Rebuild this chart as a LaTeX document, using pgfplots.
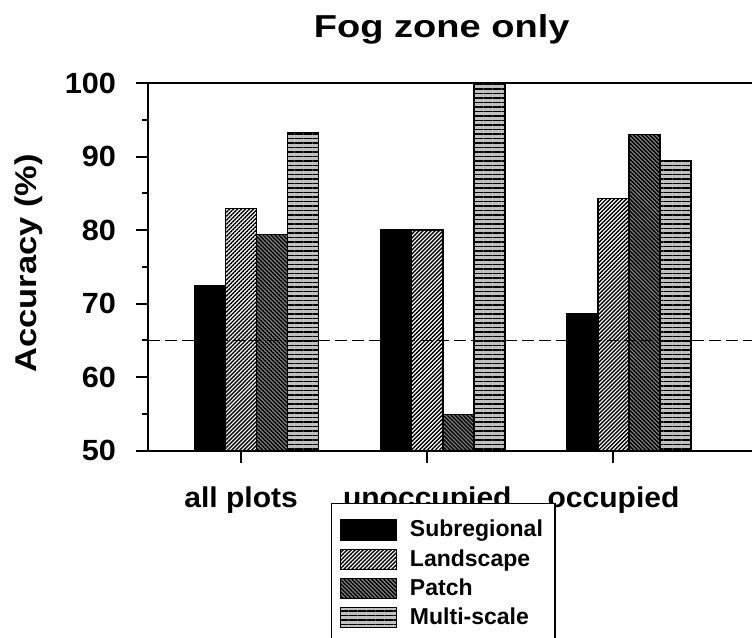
\documentclass[border=0pt]{standalone}
\usepackage{fontspec}
\setmainfont{Liberation Sans}
\newfontfamily\titlefont[FakeStretch=1.2]{Liberation Sans}
\newfontfamily\labelfont[FakeStretch=1.15]{Liberation Sans}
\newfontfamily\tickfont[FakeStretch=1.05]{Liberation Sans}
\usepackage{pgfplots}
\pgfplotsset{compat=1.18}
\usetikzlibrary{patterns.meta}
\definecolor{patchgray}{HTML}{808080}
\definecolor{multigray}{HTML}{C0C0C0}
\begin{document}
\begin{tikzpicture}
\useasboundingbox (0,0) rectangle (376pt,319pt);
\clip (0,0) rectangle (376pt,319pt);
\begin{axis}[
  at={(74pt,93.65pt)}, anchor=south west,
  scale only axis, width=325.85pt, height=183.85pt,
  xmin=0.5, xmax=4.0, ymin=50, ymax=100,
  axis line style={line width=1pt},
  xtick={1,2,3}, xticklabels={all plots,unoccupied,occupied},
  ytick={50,60,70,80,90,100}, minor ytick={55,65,75,85,95},
  xtick pos=bottom, ytick pos=left, tick align=outside,
  major tick length=6pt, minor tick length=3pt,
  tick style={line width=1pt, black},
  /pgf/number format/assume math mode=true,
  yticklabel style={font=\tickfont\bfseries\fontsize{14.6}{16}\selectfont, xshift=-6.5pt},
  xticklabel style={font=\tickfont\bfseries\fontsize{14.3}{16}\selectfont, yshift=-8.5pt},
  ylabel={Accuracy (\%)},
  ylabel style={font=\labelfont\bfseries\fontsize{15}{18}\selectfont, at={(axis description cs:-0.1826,0.5097)}, anchor=center},
  every axis title shift=0pt,
  title={Fog zone only},
  title style={font=\titlefont\bfseries\fontsize{15.85}{18}\selectfont, at={(axis description cs:0.4507,1.1224)}, anchor=base},
  legend style={at={(axis description cs:0.2808,-0.1414)}, anchor=north west, draw=black, line width=0.6pt,
    font=\bfseries\fontsize{11.5}{13}\selectfont, cells={anchor=west}, inner xsep=4pt, inner ysep=6.5pt,
    row sep=0.75pt, column sep=4.5pt},
  legend image code/.code={\draw[#1, line width=0.7pt] (0pt,-5pt) rectangle (28pt,5pt);},
]
\addplot[ybar, bar width=0.1667, bar shift=-0.1667, draw=black, line width=0.7pt, fill=black]
  coordinates {(1,72.4) (2,80.0) (3,68.6)};
\addlegendentry{Subregional}
\addplot[ybar, bar width=0.1667, bar shift=0, draw=black, line width=0.7pt, preaction={fill=white},
  pattern={Lines[angle=45,distance=1.41pt,line width=0.7pt]}, pattern color=black]
  coordinates {(1,82.9) (2,80.0) (3,84.3)};
\addlegendentry{Landscape}
\addplot[ybar, bar width=0.1667, bar shift=0.1667, draw=black, line width=0.7pt, preaction={fill=patchgray},
  pattern={Lines[angle=-45,distance=1.41pt,line width=0.7pt]}, pattern color=black]
  coordinates {(1,79.4) (2,54.9) (3,93.0)};
\addlegendentry{Patch}
\addplot[ybar, bar width=0.1667, bar shift=0.3333, draw=black, line width=0.7pt, preaction={fill=multigray},
  pattern={Lines[angle=0,distance=2.25pt,line width=0.8pt]}, pattern color=black]
  coordinates {(1,93.3) (2,100) (3,89.5)};
\addlegendentry{Multi-scale}
\addplot[forget plot, black, line width=0.5pt, dash pattern=on 6pt off 2.5pt]
  coordinates {(0.5,65) (4.0,65)};
\end{axis}
\end{tikzpicture}
\end{document}
